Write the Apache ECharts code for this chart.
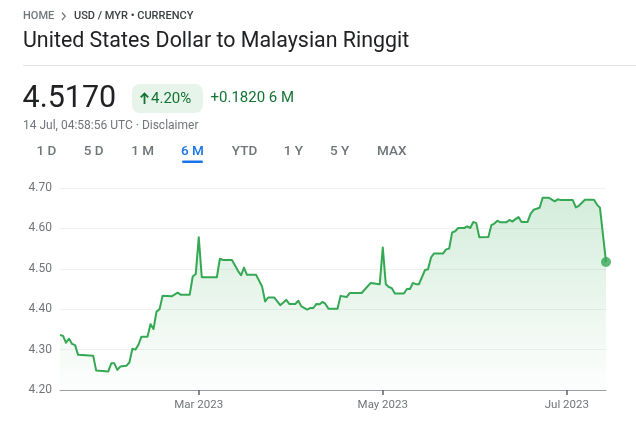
<!DOCTYPE html>
<html><head><meta charset="utf-8">
<script src="https://cdn.jsdelivr.net/npm/echarts@6/dist/echarts.min.js"></script>
<style>html,body{margin:0;padding:0;background:#fff}#c{width:636px;height:425px}</style>
</head><body><div id="c"></div>
<script>
// ---- data ----
const dates = ['2023-01-14','2023-01-15','2023-01-16','2023-01-17','2023-01-18','2023-01-19','2023-01-20','2023-01-25','2023-01-26','2023-01-30',
'2023-01-31','2023-02-01','2023-02-02','2023-02-03','2023-02-05','2023-02-06','2023-02-07','2023-02-08','2023-02-09','2023-02-10',
'2023-02-12','2023-02-13','2023-02-14','2023-02-15','2023-02-16','2023-02-17','2023-02-20','2023-02-22','2023-02-23','2023-02-26',
'2023-02-27','2023-02-28','2023-03-01','2023-03-02','2023-03-07','2023-03-08','2023-03-09','2023-03-12','2023-03-14','2023-03-15',
'2023-03-16','2023-03-17','2023-03-20','2023-03-22','2023-03-23','2023-03-24','2023-03-26','2023-03-28','2023-03-30','2023-03-31',
'2023-04-02','2023-04-03','2023-04-04','2023-04-06','2023-04-07','2023-04-08','2023-04-09','2023-04-10','2023-04-11','2023-04-12',
'2023-04-13','2023-04-16','2023-04-17','2023-04-19','2023-04-20','2023-04-24','2023-04-27','2023-04-30','2023-05-01','2023-05-02',
'2023-05-03','2023-05-04','2023-05-05','2023-05-08','2023-05-09','2023-05-10','2023-05-11','2023-05-12','2023-05-13','2023-05-15',
'2023-05-16','2023-05-17','2023-05-18','2023-05-21','2023-05-22','2023-05-23','2023-05-24','2023-05-25','2023-05-26','2023-05-28',
'2023-05-29','2023-05-30','2023-05-31','2023-06-01','2023-06-02','2023-06-05','2023-06-06','2023-06-07','2023-06-08','2023-06-09',
'2023-06-11','2023-06-12','2023-06-13','2023-06-14','2023-06-15','2023-06-16','2023-06-18','2023-06-19','2023-06-20','2023-06-22',
'2023-06-23','2023-06-25','2023-06-27','2023-06-28','2023-06-29','2023-07-03','2023-07-04','2023-07-05','2023-07-07','2023-07-10',
'2023-07-11','2023-07-12','2023-07-14'];
const rates = [4.336,4.334,4.317,4.327,4.314,4.311,4.287,4.285,4.248,4.246,
4.266,4.266,4.250,4.258,4.260,4.268,4.302,4.300,4.312,4.332,
4.332,4.363,4.351,4.394,4.400,4.433,4.432,4.441,4.436,4.436,
4.481,4.487,4.578,4.479,4.479,4.525,4.522,4.522,4.495,4.484,
4.503,4.485,4.485,4.456,4.419,4.429,4.429,4.410,4.423,4.413,
4.413,4.421,4.407,4.399,4.403,4.403,4.413,4.412,4.418,4.413,
4.401,4.401,4.433,4.430,4.440,4.440,4.465,4.462,4.553,4.462,
4.455,4.452,4.439,4.439,4.450,4.450,4.465,4.462,4.462,4.497,
4.499,4.528,4.538,4.538,4.548,4.550,4.590,4.593,4.601,4.601,
4.605,4.601,4.616,4.613,4.578,4.579,4.608,4.612,4.619,4.615,
4.615,4.621,4.617,4.623,4.628,4.616,4.616,4.636,4.646,4.651,
4.676,4.676,4.667,4.672,4.670,4.670,4.652,4.656,4.671,4.671,
4.659,4.651,4.517];
const xTickDates = ['2023-03-01','2023-05-01','2023-07-01'];
const xTickLabels = ['Mar 2023','May 2023','Jul 2023'];
const yMin = 4.2, yMax = 4.7, yStep = 0.1;
const rangeStart = '2023-01-14', rangeEnd = '2023-07-14';
const tabs = ['1 D','5 D','1 M','6 M','YTD','1 Y','5 Y','MAX'];
const activeTab = '6 M';
const breadcrumbHome = 'HOME';
const breadcrumbPath = 'USD / MYR \u2022 CURRENCY';
const title = 'United States Dollar to Malaysian Ringgit';
const price = '4.5170';
const changePct = '4.20%';
const changeAbs = '+0.1820 6 M';
const stamp = '14 Jul, 04:58:56 UTC \u00b7 Disclaimer';

// ---- chart ----
function ts(s){ const p = s.split('-').map(Number); return Date.UTC(p[0], p[1]-1, p[2]); }
const tickTs = xTickDates.map(ts);
const seriesData = dates.map((d,i)=>[ts(d), rates[i]]);
const last = seriesData[seriesData.length-1];
const FONT = 'Roboto';
const GREEN = '#34a853';

function buildGraphics(){
  const tabCenters = [46.3,93.7,142.7,192.5,244.5,293.3,339.7,391.7];
  const g = [
    {type:'text', x:23, y:16, style:{text:breadcrumbHome, font:'500 11px '+FONT, fill:'#70757a', verticalAlign:'middle'}},
    {type:'polyline', shape:{points:[[62,12.5],[65.3,16.3],[62,20]]}, style:{stroke:'#70757a', lineWidth:1.2, fill:null}},
    {type:'text', x:74, y:16, style:{text:breadcrumbPath, font:'500 11px '+FONT, fill:'#3c4043', verticalAlign:'middle'}},
    {type:'text', x:23, y:42, style:{text:title, font:'21.4px '+FONT, fill:'#202124', verticalAlign:'middle'}},
    {type:'line', shape:{x1:23, y1:65.5, x2:636, y2:65.5}, style:{stroke:'#e3e3e3', lineWidth:1}},
    {type:'text', x:22.5, y:99.5, style:{text:price, font:'30.5px '+FONT, fill:'#202124', verticalAlign:'middle'}},
    {type:'rect', shape:{x:132, y:84, width:71, height:29, r:8}, style:{fill:'#e6f4ea'}},
    {type:'polyline', shape:{points:[[144.5,104],[144.5,93.5]]}, style:{stroke:'#137333', lineWidth:1.8, fill:null}},
    {type:'polyline', shape:{points:[[140.8,97.3],[144.5,93.5],[148.2,97.3]]}, style:{stroke:'#137333', lineWidth:1.8, fill:null}},
    {type:'text', x:151, y:99, style:{text:changePct, font:'15px '+FONT, fill:'#137333', verticalAlign:'middle'}},
    {type:'text', x:210.5, y:98.5, style:{text:changeAbs, font:'15px '+FONT, fill:'#137333', verticalAlign:'middle'}},
    {type:'text', x:23, y:126, style:{text:stamp, font:'12px '+FONT, fill:'#70757a', verticalAlign:'middle'}}
  ];
  tabs.forEach((t,i)=>{
    const active = t === activeTab;
    g.push({type:'text', x:tabCenters[i], y:151.5, style:{text:t, font:'500 13.5px '+FONT, fill: active ? '#1a73e8' : '#70757a', align:'center', verticalAlign:'middle'}});
    if (active) g.push({type:'rect', shape:{x:tabCenters[i]-10.5, y:160.5, width:21, height:2.5, r:1.2}, style:{fill:'#1a73e8'}});
  });
  return g;
}

const chart = echarts.init(document.getElementById('c'), null, {renderer:'canvas'});
chart.setOption({
  animation:false,
  backgroundColor:'#ffffff',
  graphic: buildGraphics(),
  grid:{left:60, right:30, top:188, bottom:35},
  xAxis:{
    type:'value', min:ts(rangeStart), max:ts(rangeEnd),
    axisLine:{show:true, lineStyle:{color:'#9aa0a6', width:1}},
    axisTick:{show:true, customValues:tickTs, length:5, lineStyle:{color:'#5f6368', width:1.5}},
    axisLabel:{customValues:tickTs, color:'#70757a', fontSize:11.5, fontFamily:FONT, margin:9,
      formatter:(v)=>{ const i = tickTs.indexOf(v); return i>=0 ? xTickLabels[i] : ''; }},
    splitLine:{show:false}
  },
  yAxis:{
    type:'value', min:yMin, max:yMax, interval:yStep,
    axisLine:{show:false}, axisTick:{show:false},
    axisLabel:{color:'#70757a', fontSize:12, fontFamily:FONT, margin:8, formatter:(v)=>v.toFixed(2)},
    splitLine:{show:true, lineStyle:{color:'#f1f1f1', width:1}}
  },
  series:[
    {type:'line', data:seriesData, showSymbol:false, symbol:'none',
     lineStyle:{color:GREEN, width:2, join:'round'},
     areaStyle:{color:new echarts.graphic.LinearGradient(0,0,0,1,[{offset:0,color:'rgba(52,168,83,0.30)'},{offset:1,color:'rgba(52,168,83,0.01)'}])},
     z:3},
    {type:'scatter', data:[last], symbol:'circle', symbolSize:10, itemStyle:{color:GREEN}, z:4}
  ]
});
</script>
</body></html>
